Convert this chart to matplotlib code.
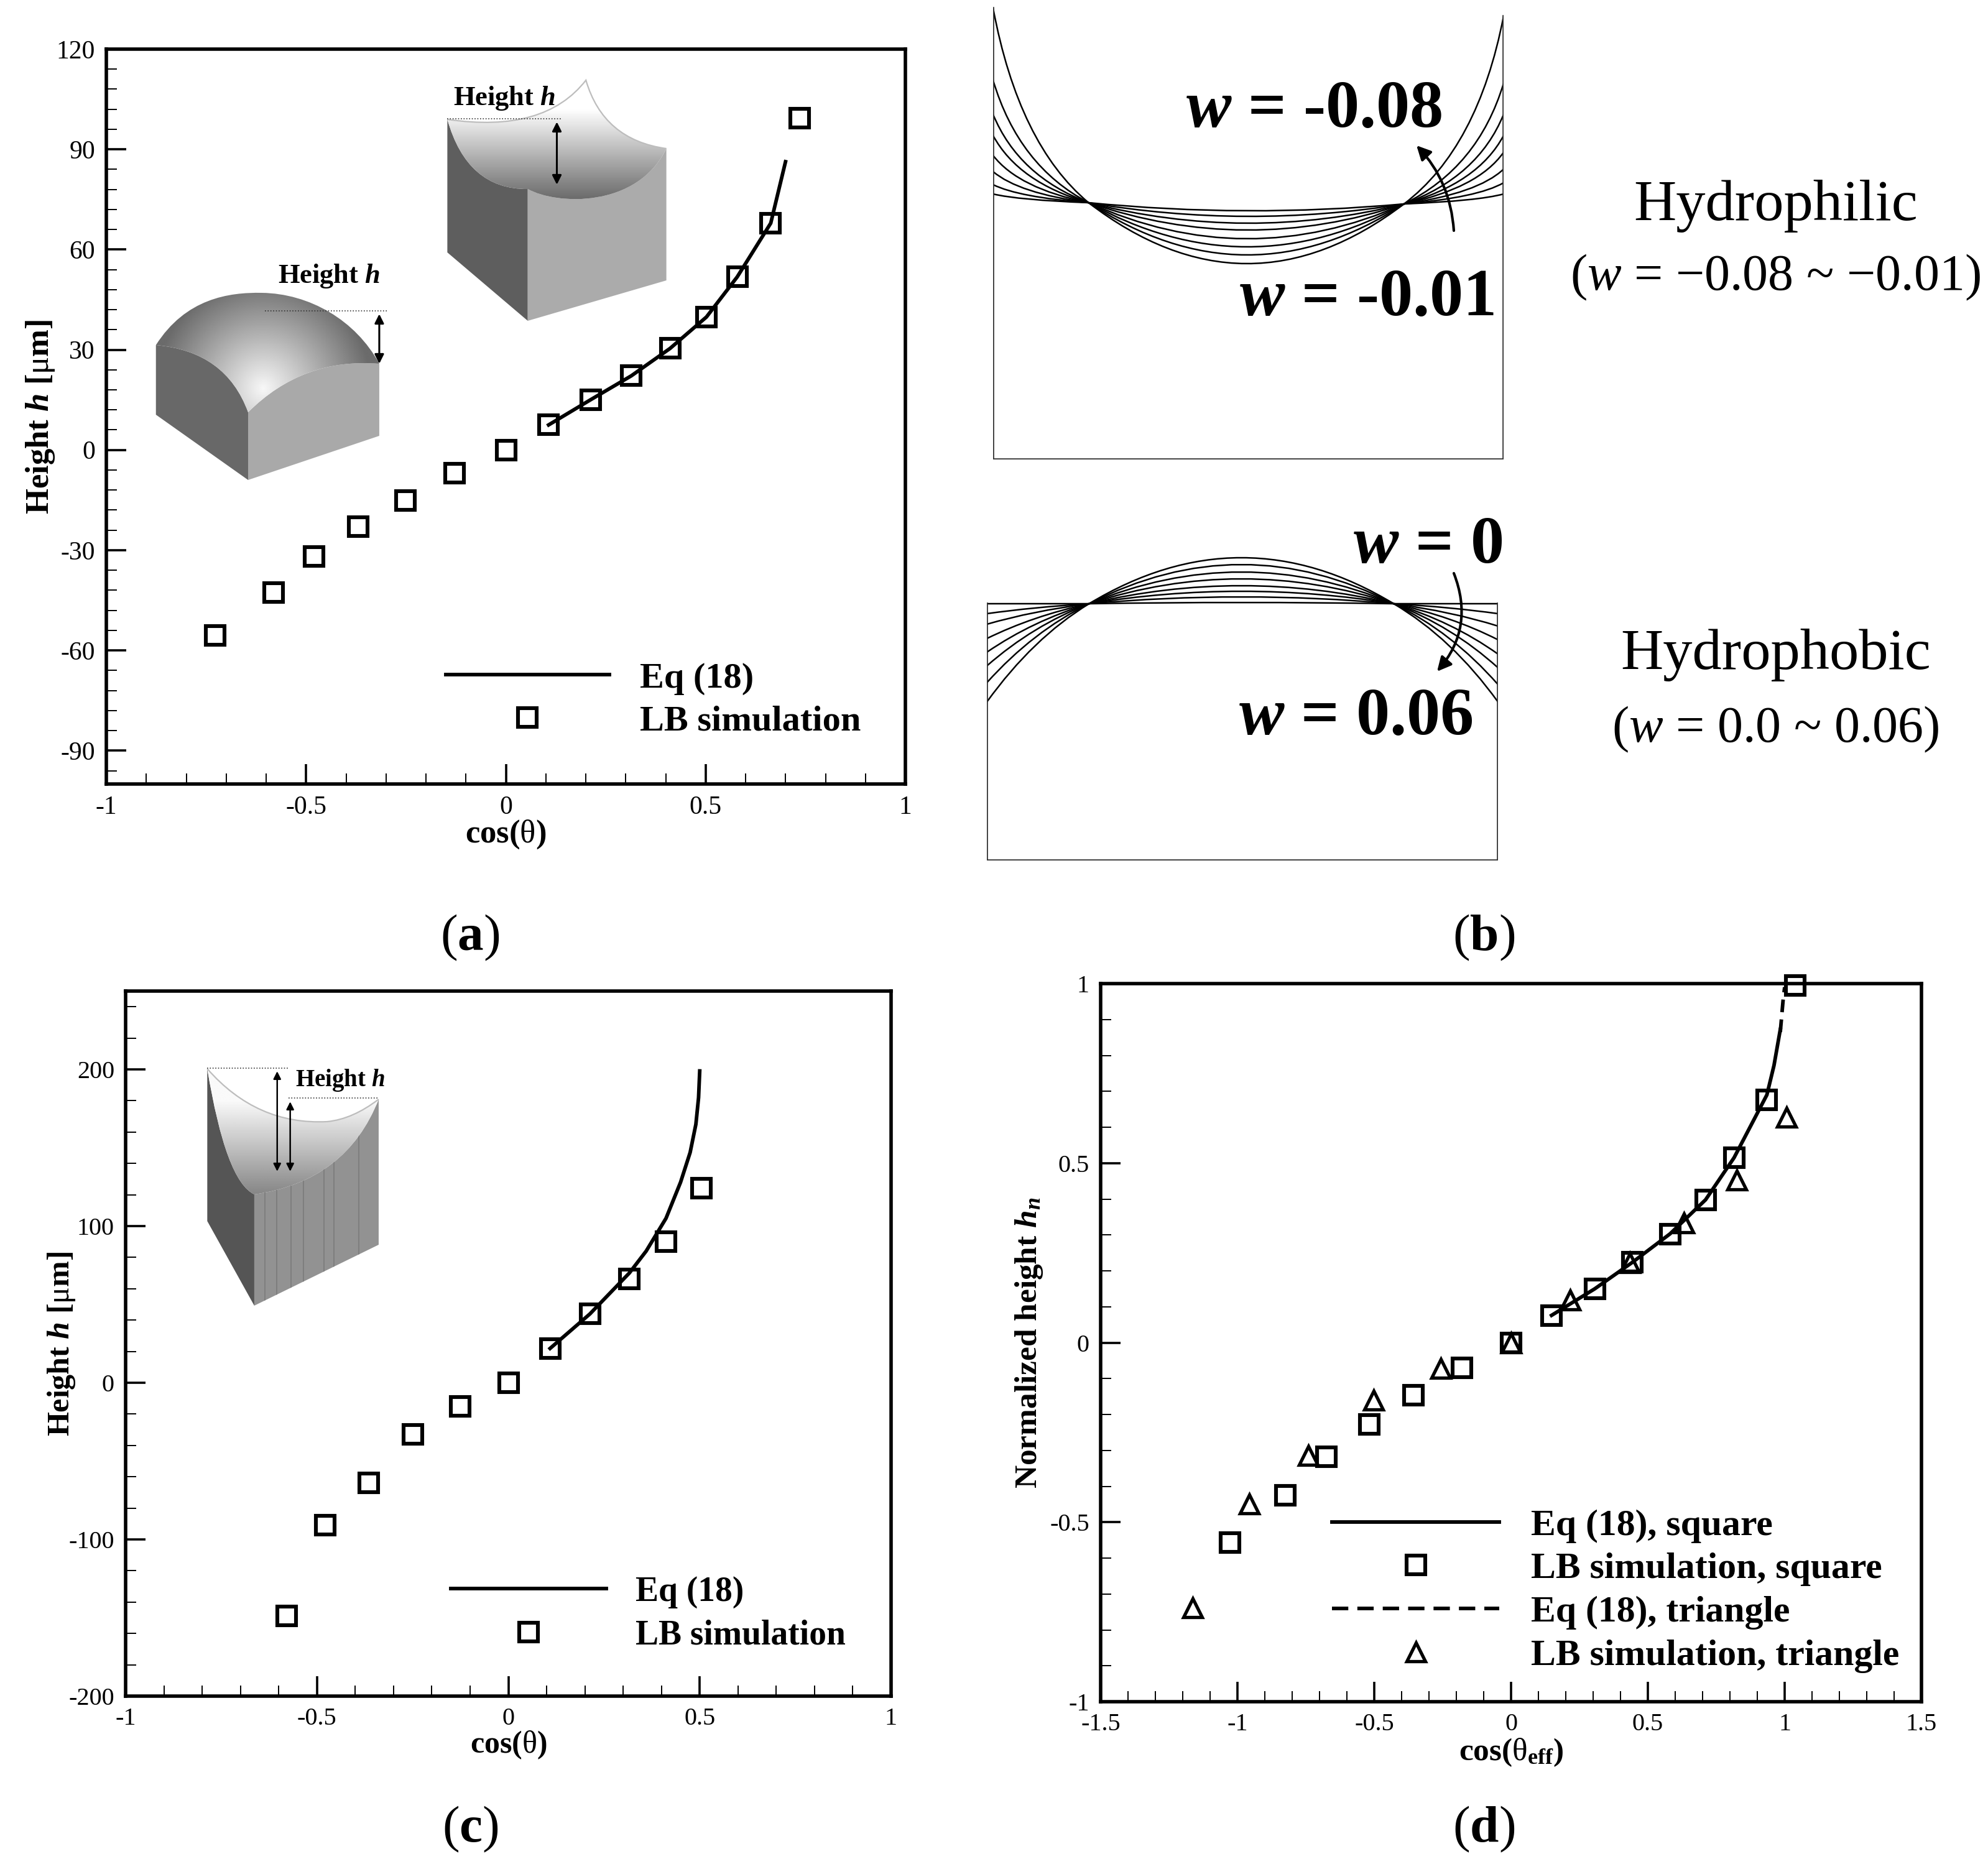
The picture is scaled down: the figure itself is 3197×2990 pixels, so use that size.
import matplotlib

matplotlib.use("Agg")
import matplotlib.pyplot as plt
import numpy as np
from matplotlib.patches import FancyArrowPatch, PathPatch
from matplotlib.path import Path
from matplotlib.ticker import FixedLocator

W, H = 3197, 2990
DPI = 100

plt.rcParams["font.family"] = ["Liberation Serif", "DejaVu Serif"]
plt.rcParams["mathtext.fontset"] = "custom"
plt.rcParams["mathtext.rm"] = "Liberation Serif"
plt.rcParams["mathtext.it"] = "Liberation Serif:italic"
plt.rcParams["mathtext.bf"] = "Liberation Serif:bold"
plt.rcParams["mathtext.bfit"] = "Liberation Serif:italic:bold"
plt.rcParams["axes.unicode_minus"] = False

# panel a
a_sq_x = [-0.727, -0.582, -0.48, -0.369, -0.252, -0.128, 0, 0.107, 0.213, 0.314, 0.411, 0.502, 0.579, 0.663, 0.736]
a_sq_y = [-55.6, -42.6, -31.9, -22.9, -15.1, -7, 0, 7.5, 15.1, 22.2, 30.4, 39.8, 51.8, 67.9, 99.4]
a_eq_x = [0.107, 0.213, 0.314, 0.411, 0.502, 0.579, 0.663, 0.70]
a_eq_y = [7.5, 15.1, 22.2, 30.4, 39.8, 51.8, 67.9, 86.3]
a_yticks = [-90, -60, -30, 0, 30, 60, 90, 120]
a_ylabels = ["-90", "-60", "-30", "0", "30", "60", "90", "120"]

# panel c
c_sq_x = [-0.58, -0.479, -0.365, -0.25, -0.126, 0, 0.109, 0.213, 0.316, 0.412, 0.504]
c_sq_y = [-148.7, -91, -63.7, -32.9, -14.9, 0, 21.9, 43.9, 66.2, 89.9, 124.2]
c_eq_x = [0.109, 0.213, 0.316, 0.36, 0.412, 0.45, 0.475, 0.49, 0.497, 0.50]
c_eq_y = [21.9, 43.9, 70, 84, 105, 128, 147, 165, 182, 199]
c_yticks = [-200, -100, 0, 100, 200]
c_ylabels = ["-200", "-100", "0", "100", "200"]

# shared x ticks of a and c
cos_ticks = [-1, -0.5, 0, 0.5, 1]
cos_labels = ["-1", "-0.5", "0", "0.5", "1"]

# panel d
d_sq_x = [-1.028, -0.826, -0.674, -0.519, -0.356, -0.18, 0, 0.148, 0.306, 0.444, 0.581, 0.711, 0.815, 0.935, 1.039]
d_sq_y = [-0.557, -0.425, -0.317, -0.227, -0.147, -0.07, 0, 0.076, 0.15, 0.224, 0.303, 0.398, 0.515, 0.676, 0.995]
d_tri_x = [-1.164, -0.956, -0.741, -0.502, -0.257, 0, 0.215, 0.435, 0.632, 0.824, 1.007]
d_tri_y = [-0.738, -0.45, -0.314, -0.161, -0.071, 0, 0.118, 0.223, 0.334, 0.452, 0.628]
d_eq_sq_x = [0.148, 0.306, 0.444, 0.581, 0.711, 0.815, 0.935, 0.961, 0.984]
d_eq_sq_y = [0.076, 0.15, 0.224, 0.303, 0.398, 0.515, 0.69, 0.772, 0.872]
d_eq_tri_x = [0.984, 0.995, 1.0]
d_eq_tri_y = [0.865, 0.96, 0.99]
d_xticks = [-1.5, -1, -0.5, 0, 0.5, 1, 1.5]
d_xlabels = ["-1.5", "-1", "-0.5", "0", "0.5", "1", "1.5"]
d_yticks = [-1, -0.5, 0, 0.5, 1]
d_ylabels = ["-1", "-0.5", "0", "0.5", "1"]

# panel b, heights above the box floor in px, one entry per curve
phil_wall_l = [726, 610, 555, 521, 489, 463, 442, 427]
phil_wall_r = [713, 605, 555, 521, 494, 467, 445, 427]
phil_centre = [315, 329, 342, 355, 369, 380, 391, 400]
phob_wall_l = [413, 397, 380, 357, 335, 313, 286, 255]
phob_wall_r = [413, 397, 377, 355, 332, 310, 283, 255]
phob_centre = [415, 424, 433, 442, 453, 464, 476, 487]


def px_axes(fig, left, top, right, bottom):
    return fig.add_axes([left / W, 1 - bottom / H, (right - left) / W, (bottom - top) / H])


def style_plot(ax, xlim, ylim, xticks, xlabels, yticks, ylabels, xminor, yminor, fs):
    ax.set_xlim(*xlim)
    ax.set_ylim(*ylim)
    ax.set_xticks(xticks, xlabels)
    ax.set_yticks(yticks, ylabels)
    ax.xaxis.set_minor_locator(FixedLocator(xminor))
    ax.yaxis.set_minor_locator(FixedLocator(yminor))
    ax.tick_params(which="major", direction="in", length=23, width=2.6, labelsize=fs, pad=13)
    ax.tick_params(which="minor", direction="in", length=12, width=1.4)
    for spine in ax.spines.values():
        spine.set_linewidth(4)


def add_legend(ax, handles, labels, fs, anchor, handlelength, spacing):
    ax.legend(
        handles,
        labels,
        loc="lower left",
        bbox_to_anchor=anchor,
        frameon=False,
        borderpad=0,
        borderaxespad=0,
        handlelength=handlelength,
        handletextpad=0.85,
        labelspacing=spacing,
        prop={"size": fs, "weight": "bold"},
    )


def draw_curve(ax, start, ctrl, end, lw=1.8):
    path = Path([start, ctrl, end], [Path.MOVETO, Path.CURVE3, Path.CURVE3])
    ax.add_patch(PathPatch(path, fc="none", ec="black", lw=lw))


def draw_hydrophilic(ax):
    pin_l, pin_r = (0.187, 413), (0.805, 411)
    for wl, wr, c in zip(phil_wall_l, phil_wall_r, phil_centre):
        draw_curve(ax, (0, wl), (0.05, pin_l[1] + 0.3 * (wl - pin_l[1])), pin_l)
        draw_curve(ax, pin_l, (0.496, 2 * c - 412), pin_r)
        draw_curve(ax, pin_r, (0.95, pin_r[1] + 0.3 * (wr - pin_r[1])), (1, wr))
    ax.plot([0, 0, 1, 1], [phil_wall_l[0], 0, 0, phil_wall_r[0]], color="#333333", lw=2.6)


def draw_hydrophobic(ax):
    pin_l, pin_r = (0.2, 413), (0.796, 413)
    for wl, wr, c in zip(phob_wall_l, phob_wall_r, phob_centre):
        draw_curve(ax, (0, wl), (0.09, pin_l[1] + 0.35 * (wl - pin_l[1])), pin_l)
        draw_curve(ax, pin_l, (0.498, 2 * c - 413), pin_r)
        draw_curve(ax, pin_r, (0.91, pin_r[1] + 0.35 * (wr - pin_r[1])), (1, wr))
    ax.plot([0, 0, 1, 1], [413, 0, 0, 413], color="#333333", lw=2.6)


def gradient_patch(ov, verts, codes, centre, reach, low, high):
    # shaded surface: a grey ramp clipped to the outline, radial or top-down when centre x is None
    patch = PathPatch(Path(verts, codes), fc="none", ec="none")
    ov.add_patch(patch)
    xs = [v[0] for v in verts]
    ys = [v[1] for v in verts]
    x0, x1, y0, y1 = min(xs), max(xs), min(ys), max(ys)
    gx, gy = np.meshgrid(np.linspace(x0, x1, 200), np.linspace(y0, y1, 200))
    if centre[0] is None:
        dist = (gy - centre[1]) / reach
    else:
        dist = np.hypot(gx - centre[0], gy - centre[1]) / reach
    shade = high + (low - high) * np.clip(dist, 0, 1)
    im = ov.imshow(shade, extent=(x0, x1, y1, y0), cmap="gray", vmin=0, vmax=1, aspect="auto", zorder=3)
    im.set_clip_path(patch)


def face(ov, verts, codes, color):
    ov.add_patch(PathPatch(Path(verts, codes), fc=color, ec="none", zorder=3))


def rim(ov, verts, codes):
    ov.add_patch(PathPatch(Path(verts, codes), fc="none", ec="#bdbdbd", lw=1.6, zorder=4))


def double_arrow(ov, x, y0, y1, lw=2.2, scale=22):
    ov.add_patch(FancyArrowPatch((x, y0), (x, y1), arrowstyle="<|-|>", mutation_scale=scale,
                                 lw=lw, color="black", shrinkA=0, shrinkB=0, zorder=5))


M, L, C3, C4 = Path.MOVETO, Path.LINETO, Path.CURVE3, Path.CURVE4


def draw_insets(ov):
    # dome on the square post
    lt, lb, fb, rb, rt, ft = (252, 555), (252, 667), (401, 772), (613, 701), (613, 585), (401, 663)
    face(ov, [lt, lb, fb, ft, (365, 565), lt], [M, L, L, L, C3, C3], "#686868")
    face(ov, [ft, fb, rb, rt, (490, 575), ft], [M, L, L, L, C3, C3], "#a9a9a9")
    gradient_patch(ov, [lt, (300, 480), (370, 470), (423, 471), (500, 472), (575, 515), rt, (490, 575), ft, (365, 565), lt],
                   [M, C4, C4, C4, C4, C4, C4, C3, C3, C3, C3], (425, 625), 175, 0.42, 0.97)
    ov.plot([428, 625], [500, 500], color="#333333", lw=1.2, ls=":", zorder=5)
    double_arrow(ov, 613, 505, 585)
    ov.text(532, 444, r"Height $\mathbfit{h}$", fontsize=32, fontweight="bold", ha="center", va="center", zorder=5)

    # bowl on the square post
    lt, lb, fb, rb, rt, ft = (723, 192), (723, 406), (853, 516), (1077, 451), (1077, 239), (853, 304)
    face(ov, [lt, lb, fb, ft, (755, 305), lt], [M, L, L, L, C3, C3], "#5e5e5e")
    face(ov, [ft, fb, rb, rt, (1030, 335), (900, 330), ft], [M, L, L, L, C4, C4, C4], "#ababab")
    gradient_patch(ov, [lt, (880, 215), (947, 129), (975, 225), rt, (1030, 335), (900, 330), ft, (755, 305), lt],
                   [M, C3, C3, C3, C3, C4, C4, C4, C3, C3], (None, 175), 145, 0.42, 1.0)
    rim(ov, [lt, (880, 215), (947, 129), (975, 225), rt], [M, C3, C3, C3, C3])
    ov.plot([723, 909], [191, 191], color="#333333", lw=1.2, ls=":", zorder=5)
    double_arrow(ov, 900, 196, 297)
    ov.text(815, 158, r"Height $\mathbfit{h}$", fontsize=32, fontweight="bold", ha="center", va="center", zorder=5)

    # bowl on the triangular post
    lt, lb, fb, rb, rt, ft = (335, 1719), (335, 1964), (411, 2100), (612, 2002), (612, 1768), (411, 1921)
    face(ov, [lt, lb, fb, ft, (365, 1900), lt], [M, L, L, L, C3, C3], "#555555")
    right = [ft, fb, rb, rt, (560, 1900), ft]
    right_codes = [M, L, L, L, C3, C3]
    face(ov, right, right_codes, "#929292")
    stripes = ov.vlines([428, 447, 470, 490, 524, 540, 580], 1780, 2100, color="#7a7a7a", lw=1.2, zorder=3)
    clip = PathPatch(Path(right, right_codes), fc="none", ec="none")
    ov.add_patch(clip)
    stripes.set_clip_path(clip)
    gradient_patch(ov, [lt, (415, 1810), (529, 1804), (570, 1800), rt, (560, 1900), ft, (365, 1900), lt],
                   [M, C3, C3, C3, C3, C3, C3, C3, C3], (None, 1770), 160, 0.5, 0.98)
    rim(ov, [lt, (415, 1810), (529, 1804), (570, 1800), rt], [M, C3, C3, C3, C3])
    ov.plot([335, 465], [1718, 1718], color="#333333", lw=1.2, ls=":", zorder=5)
    ov.plot([466, 612], [1766, 1766], color="#333333", lw=1.2, ls=":", zorder=5)
    double_arrow(ov, 448, 1723, 1884, lw=1.8, scale=18)
    double_arrow(ov, 469, 1772, 1884, lw=1.8, scale=18)
    ov.text(550, 1737, r"Height $\mathbfit{h}$", fontsize=28, fontweight="bold", ha="center", va="center", zorder=5)


def main():
    fig = plt.figure(figsize=(W / DPI, H / DPI), dpi=DPI)

    tenth = [round(-1 + 0.1 * i, 1) for i in range(21)]
    sq_style = {"ls": "none", "marker": "s", "ms": 21, "mfc": "none", "mec": "black", "mew": 4.4}

    # (a)
    ax = px_axes(fig, 171, 79, 1456, 1261)
    style_plot(ax, (-1, 1), (-100, 120), cos_ticks, cos_labels, a_yticks, a_ylabels,
               tenth, list(range(-96, 121, 6)), 30)
    line, = ax.plot(a_eq_x, a_eq_y, color="black", lw=4.2)
    sq, = ax.plot(a_sq_x, a_sq_y, **sq_style)
    ax.set_xlabel(r"cos($\mathrm{\theta}$)", fontsize=38, fontweight="bold")
    ax.xaxis.set_label_coords(0.5, -0.047)
    ax.set_ylabel(r"Height $\mathbfit{h}$ [$\mathrm{\mu}$m]", fontsize=38, fontweight="bold")
    ax.yaxis.set_label_coords(-0.062, 0.5)
    add_legend(ax, [line, sq], ["Eq (18)", "LB simulation"], 42, (0.425, 0.063), 4.5, 0.27)

    # (c)
    ax = px_axes(fig, 202, 1594, 1433, 2728)
    style_plot(ax, (-1, 1), (-200, 250), cos_ticks, cos_labels, c_yticks, c_ylabels,
               tenth, list(range(-200, 251, 20)), 29)
    line, = ax.plot(c_eq_x, c_eq_y, color="black", lw=4.2)
    sq, = ax.plot(c_sq_x, c_sq_y, **sq_style)
    ax.set_xlabel(r"cos($\mathrm{\theta}$)", fontsize=36, fontweight="bold")
    ax.xaxis.set_label_coords(0.5, -0.047)
    ax.set_ylabel(r"Height $\mathbfit{h}$ [$\mathrm{\mu}$m]", fontsize=36, fontweight="bold")
    ax.yaxis.set_label_coords(-0.063, 0.5)
    add_legend(ax, [line, sq], ["Eq (18)", "LB simulation"], 40, (0.425, 0.063), 4.5, 0.32)

    # (d)
    ax = px_axes(fig, 1770, 1582, 3090, 2737)
    style_plot(ax, (-1.5, 1.5), (-1, 1), d_xticks, d_xlabels, d_yticks, d_ylabels,
               [round(-1.5 + 0.1 * i, 1) for i in range(31)], tenth, 29)
    ax.plot(d_eq_tri_x, d_eq_tri_y, color="black", lw=4.2, ls=(0, (3.5, 2)))
    line, = ax.plot(d_eq_sq_x, d_eq_sq_y, color="black", lw=4.2)
    dash, = ax.plot([], [], color="black", lw=4.2, ls=(0, (4.5, 2.5)))
    sq, = ax.plot(d_sq_x, d_sq_y, clip_on=False, **sq_style)
    tri, = ax.plot(d_tri_x, d_tri_y, ls="none", marker="^", ms=22, mfc="none", mec="black", mew=3.8)
    ax.set_xlabel(r"cos($\mathrm{\theta}_{\mathbf{eff}}$)", fontsize=37, fontweight="bold")
    ax.xaxis.set_label_coords(0.5, -0.049)
    ax.set_ylabel(r"Normalized height $\mathbfit{h}_{\mathbfit{n}}$", fontsize=37, fontweight="bold")
    ax.yaxis.set_label_coords(-0.068, 0.5)
    add_legend(ax, [line, sq, dash, tri],
               ["Eq (18), square", "LB simulation, square", "Eq (18), triangle", "LB simulation, triangle"],
               43, (0.282, 0.04), 4.5, 0.25)

    # (b), two menisci drawn box by box
    ax = px_axes(fig, 1597, 0, 2418, 739)
    ax.set_xlim(0, 1)
    ax.set_ylim(0, 739)
    ax.axis("off")
    draw_hydrophilic(ax)
    ax = px_axes(fig, 1587, 800, 2409, 1384)
    ax.set_xlim(0, 1)
    ax.set_ylim(0, 584)
    ax.axis("off")
    draw_hydrophobic(ax)

    # sketches were read at a slightly wider x scale
    sk = fig.add_axes([0, 0, 1, 1], zorder=10)
    sk.patch.set_alpha(0)
    sk.axis("off")
    draw_insets(sk)
    sk.set_xlim(0, W / 0.995)
    sk.set_ylim(H, 0)

    # overlay in image pixels for free text
    ov = fig.add_axes([0, 0, 1, 1], zorder=11)
    ov.patch.set_alpha(0)
    ov.axis("off")
    ov.set_xlim(0, W)
    ov.set_ylim(H, 0)

    for x, y, txt in [(2113, 178, "-0.08"), (2198, 481, "-0.01"), (2296, 879, "0"), (2180, 1155, "0.06")]:
        ov.text(x, y, r"$\mathbfit{w}$ = " + txt, fontsize=78, fontweight="bold", ha="center", va="center")

    ov.add_patch(FancyArrowPatch((2338, 371), (2278, 234), connectionstyle="arc3,rad=0.18", arrowstyle="-|>",
                                 mutation_scale=34, lw=3, color="black", shrinkA=0, shrinkB=0))
    ov.add_patch(FancyArrowPatch((2338, 922), (2311, 1080), connectionstyle="arc3,rad=-0.3", arrowstyle="-|>",
                                 mutation_scale=34, lw=3, color="black", shrinkA=0, shrinkB=0))

    ov.text(2856, 332, "Hydrophilic", fontsize=68, ha="center", va="center")
    ov.text(2855, 446, r"($\mathit{w}$ = −0.08 ~ −0.01)", fontsize=59, ha="center", va="center")
    ov.text(2856, 1053, "Hydrophobic", fontsize=68, ha="center", va="center")
    ov.text(2855, 1173, r"($\mathit{w}$ = 0.0 ~ 0.06)", fontsize=59, ha="center", va="center")

    for x, y, tag in [(756, 1508, "a"), (2386, 1508, "b"), (756, 2942, "c"), (2386, 2942, "d")]:
        ov.text(x, y, r"($\mathbf{" + tag + r"}$)", fontsize=60, ha="center", va="center")

    fig.savefig("out.png", dpi=DPI, facecolor="white")
    plt.close(fig)


if __name__ == "__main__":
    main()
